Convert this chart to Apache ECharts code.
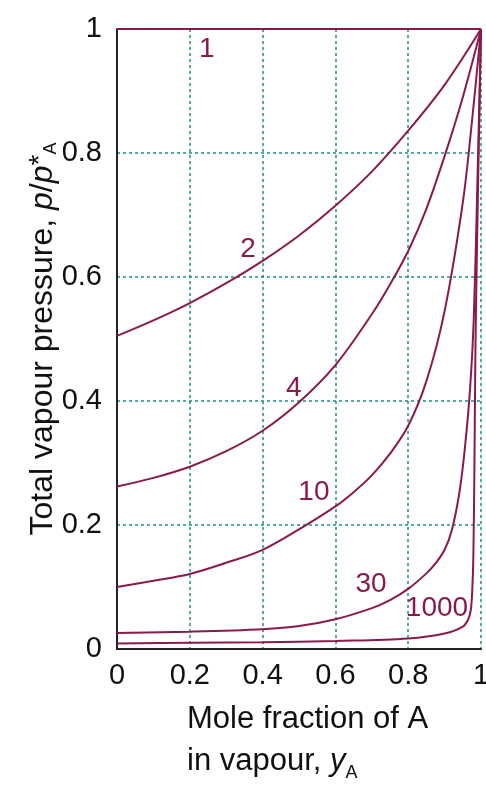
<!DOCTYPE html>
<html>
<head>
<meta charset="utf-8">
<script src="https://cdn.jsdelivr.net/npm/echarts@6/dist/echarts.min.js"></script>
<style>
html,body{margin:0;padding:0;background:#fff;}
#chart{width:486px;height:786px;}
</style>
</head>
<body>
<div id="chart"></div>
<script>
// ratio pA*/pB* for each curve
const curveNames = ['1', '2', '4', '10', '30', '1000'];
// values: [yA, p/pA*]
const curve1 = [[0, 1], [1, 1]];
const curve2 = [[0, 0.505], [0.1, 0.53], [0.2, 0.558], [0.3, 0.59], [0.4, 0.626], [0.5, 0.667], [0.6, 0.715], [0.7, 0.77], [0.8, 0.836], [0.9, 0.91], [1, 1]];
const curve4 = [[0, 0.262], [0.1, 0.276], [0.2, 0.294], [0.3, 0.319], [0.4, 0.352], [0.5, 0.398], [0.6, 0.458], [0.7, 0.54], [0.75, 0.588], [0.8, 0.642], [0.85, 0.71], [0.9, 0.795], [0.95, 0.89], [1, 1]];
const curve10 = [[0, 0.1], [0.1, 0.11], [0.2, 0.121], [0.3, 0.139], [0.4, 0.16], [0.5, 0.193], [0.6, 0.23], [0.65, 0.253], [0.7, 0.28], [0.75, 0.315], [0.8, 0.36], [0.85, 0.432], [0.9, 0.545], [0.95, 0.72], [0.975, 0.85], [1, 1]];
const curve30 = [[0, 0.026], [0.2, 0.028], [0.4, 0.032], [0.5, 0.037], [0.6, 0.048], [0.7, 0.066], [0.75, 0.079], [0.8, 0.097], [0.85, 0.122], [0.875, 0.138], [0.9, 0.16], [0.92, 0.192], [0.94, 0.25], [0.955, 0.32], [0.97, 0.42], [0.98, 0.53], [0.99, 0.75], [1, 1]];
const curve1000 = [[0, 0.009], [0.2, 0.01], [0.4, 0.011], [0.6, 0.013], [0.8, 0.017], [0.9, 0.025], [0.95, 0.036], [0.965, 0.048], [0.972, 0.063], [0.976, 0.095], [0.979, 0.15], [0.982, 0.3], [0.985, 0.5], [0.992, 0.75], [1, 1]];
const curves = [curve1, curve2, curve4, curve10, curve30, curve1000];
// where each curve's label sits, in data coordinates
const labelAnchors = [[0.247, 0.968], [0.36, 0.644], [0.486, 0.421], [0.541, 0.252], [0.698, 0.105], [0.879, 0.066]];
const tickValues = [0, 0.2, 0.4, 0.6, 0.8, 1];

const FONT = '"Liberation Sans", Arial, sans-serif';
const MAROON = '#8a1a4e';
const TEAL = '#1f8f88';

const chart = echarts.init(document.getElementById('chart'), null, {renderer: 'canvas'});

const series = curves.map((c, i) => ({
  type: 'line',
  name: curveNames[i],
  data: c,
  showSymbol: false,
  smooth: 0.35,
  lineStyle: {color: MAROON, width: 2},
  z: 3,
  animation: false
}));
series.push({
  type: 'scatter',
  data: labelAnchors.map((p, i) => ({value: p, name: curveNames[i]})),
  symbolSize: 1,
  itemStyle: {opacity: 0},
  label: {
    show: true, position: 'inside', formatter: p => p.name, opacity: 1,
    color: MAROON, fontSize: 28, fontFamily: FONT
  },
  emphasis: {disabled: true},
  z: 4,
  animation: false
});

const axisCommon = {
  type: 'value', min: 0, max: 1, interval: 0.2,
  axisLine: {show: true, lineStyle: {color: '#222', width: 2}},
  axisTick: {show: false},
  splitLine: {show: true, lineStyle: {color: TEAL, type: [3, 3], width: 1.5}},
  axisLabel: {color: '#111', fontSize: 29, fontFamily: FONT,
    formatter: v => tickValues.includes(+v.toFixed(1)) ? String(+v.toFixed(1)) : ''}
};

chart.setOption({
  backgroundColor: '#fff',
  animation: false,
  grid: {left: 117, right: 5, top: 29, bottom: 137, outerBoundsMode: 'none', containLabel: false},
  xAxis: Object.assign({}, axisCommon, {
    axisLabel: Object.assign({}, axisCommon.axisLabel, {margin: 12})
  }),
  yAxis: Object.assign({}, axisCommon, {
    axisLabel: Object.assign({}, axisCommon.axisLabel, {margin: 15}),
    name: '{a|Total vapour pressure, }{i|p}{a|/}{i|p}{sup|*}{s|A}',
    nameLocation: 'middle',
    nameRotate: 90,
    nameGap: 57,
    nameMoveOverlap: false,
    nameTextStyle: {
      fontFamily: FONT, fontSize: 32, color: '#111',
      rich: {
        a: {fontFamily: FONT, fontSize: 32, color: '#111', lineHeight: 34},
        i: {fontFamily: FONT, fontSize: 32, color: '#111', fontStyle: 'italic', lineHeight: 34},
        sup: {fontFamily: FONT, fontSize: 28, color: '#111', verticalAlign: 'top', lineHeight: 34, padding: [0, 0, 10, 0]},
        s: {fontFamily: FONT, fontSize: 18, color: '#111', verticalAlign: 'bottom', lineHeight: 20, padding: [0, 0, 0, 0]}
      }
    }
  }),
  graphic: [{
    type: 'text',
    left: 187,
    top: 704,
    style: {
      text: '{a|Mole fraction of A}\n{a|in vapour, }{i|y}{s|A}',
      fill: '#111',
      font: '31px ' + FONT,
      rich: {
        a: {fontFamily: FONT, fontSize: 31, color: '#111', lineHeight: 42},
        i: {fontFamily: FONT, fontSize: 31, color: '#111', fontStyle: 'italic', lineHeight: 42},
        s: {fontFamily: FONT, fontSize: 18, color: '#111', lineHeight: 42, verticalAlign: 'bottom', padding: [12, 0, 0, 0]}
      }
    }
  }],
  series: series
});
</script>
</body>
</html>
